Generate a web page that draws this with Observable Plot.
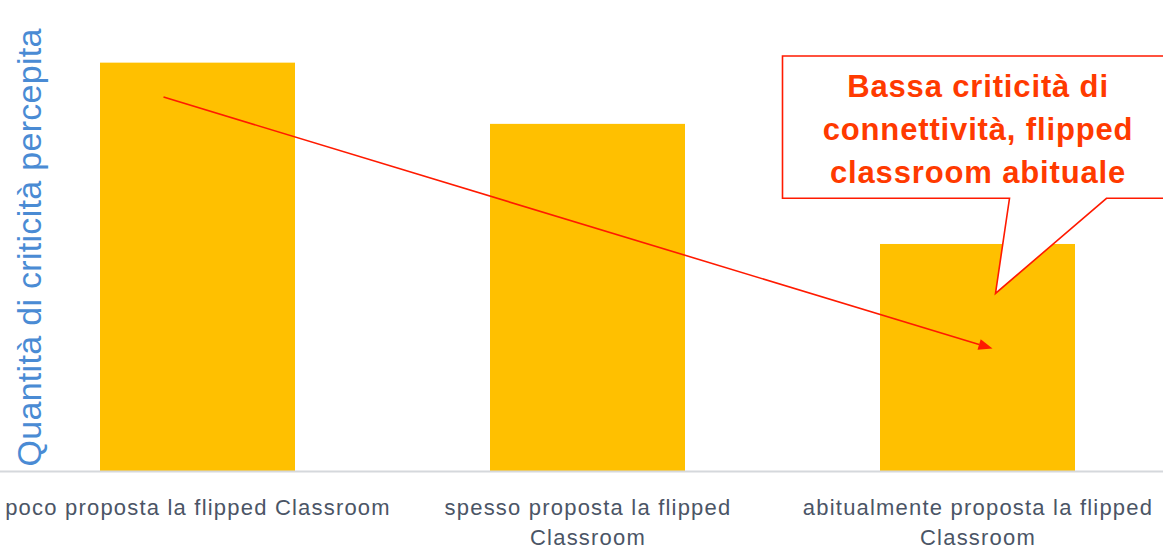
<!DOCTYPE html>
<html>
<head>
<meta charset="utf-8">
<script src="https://cdn.jsdelivr.net/npm/d3@7"></script>
<script src="https://cdn.jsdelivr.net/npm/@observablehq/plot@0.6"></script>
<style>
  html, body { margin: 0; padding: 0; background: #fff; overflow: hidden; }
</style>
</head>
<body>
<div id="chart"></div>
<script>
// ---- data ----
const categories = [
  "poco proposta la flipped Classroom",
  "spesso proposta la flipped Classroom",
  "abitualmente proposta la flipped Classroom"
];
const values = [86.7, 73.7, 48.2];
const tickLabels = [
  "poco proposta la flipped Classroom",
  "spesso proposta la flipped\nClassroom",
  "abitualmente proposta la flipped\nClassroom"
];
const yLabel = "Quantità di criticità percepita";
const calloutLines = ["Bassa criticità di", "connettività, flipped", "classroom abituale"];

const table = categories.map((c, i) => ({category: c, value: values[i], label: tickLabels[i]}));

const RED = "#ff1a00";
const TEXT_RED = "#ff3a00";

// Annotation overlay: callout box + trend arrow, positioned via the chart scales
function overlay(index, scales) {
  const x = scales.x, y = scales.y;
  const bw = x.bandwidth ? x.bandwidth() : (x(categories[1]) - x(categories[0])) / 2;
  const cx = c => x(c) + bw / 2;
  const ns = "http://www.w3.org/2000/svg";
  const g = document.createElementNS(ns, "g");
  const c3 = cx(categories[2]);
  const top = y(88.1), bot = y(57.9), tipY = y(37.7);
  const box = document.createElementNS(ns, "path");
  box.setAttribute("d",
    `M${c3 - 195},${top} H${c3 + 195} V${bot} H${c3 + 129} L${c3 + 18},${tipY} L${c3 + 32},${bot} H${c3 - 195} Z`);
  box.setAttribute("fill", "#fff");
  box.setAttribute("stroke", RED);
  box.setAttribute("stroke-width", 1.6);
  g.appendChild(box);
  const x1 = cx(categories[0]) - 34, y1 = y(79.4);
  const x2 = c3 + 15, y2 = y(26);
  const ang = Math.atan2(y2 - y1, x2 - x1);
  const L = 14, W = 5.5;
  const bx = x2 - L * Math.cos(ang), by = y2 - L * Math.sin(ang);
  const line = document.createElementNS(ns, "line");
  line.setAttribute("x1", x1); line.setAttribute("y1", y1);
  line.setAttribute("x2", bx); line.setAttribute("y2", by);
  line.setAttribute("stroke", RED);
  line.setAttribute("stroke-width", 1.6);
  g.appendChild(line);
  const head = document.createElementNS(ns, "path");
  const px = -Math.sin(ang) * W, py = Math.cos(ang) * W;
  head.setAttribute("d", `M${x2},${y2} L${bx + px},${by + py} L${bx - px},${by - py} Z`);
  head.setAttribute("fill", RED);
  g.appendChild(head);
  return g;
}

const chart = Plot.plot({
  width: 1163,
  height: 554,
  marginTop: 0,
  marginBottom: 83,
  marginLeft: 0,
  marginRight: 0,
  style: {fontFamily: "'Liberation Sans', Arial, sans-serif", background: "#fff"},
  x: {type: "band", domain: categories, range: [1.4, 1172.9], paddingInner: 0.5, paddingOuter: 0.25, axis: null},
  y: {domain: [0, 100], axis: null},
  marks: [
    Plot.barY(table, {x: "category", y: "value", fill: "#ffc000"}),
    Plot.ruleY([0], {stroke: "#d5d8dc", strokeWidth: 2}),
    Plot.text(table, {
      x: "category", text: "label", frameAnchor: "bottom", lineAnchor: "top",
      dy: 22, lineHeight: 1.36, fontSize: 22, fill: "#4b5566"
    }),
    Plot.text([yLabel], {
      frameAnchor: "bottom-left", rotate: -90, textAnchor: "start", lineAnchor: "middle",
      dx: 30, dy: -5, fontSize: 34, fill: "#4a8bd4"
    }),
    overlay,
    Plot.text([calloutLines.join("\n")], {
      x: () => categories[2], frameAnchor: "top", lineAnchor: "top",
      dy: 66, lineHeight: 1.387, fontSize: 31, fontWeight: "bold", fill: TEXT_RED
    })
  ]
});
// letter spacing to mimic the wider original typesetting
chart.querySelectorAll("text").forEach(t => {
  const s = t.textContent;
  if (tickLabels.some(l => l.replace("\n", "") === s)) t.setAttribute("letter-spacing", "1.2");
  else if (s === yLabel) t.setAttribute("letter-spacing", "0.3");
  else if (s === calloutLines.join("")) t.setAttribute("letter-spacing", "0.85");
});
document.getElementById("chart").appendChild(chart);
</script>
</body>
</html>
